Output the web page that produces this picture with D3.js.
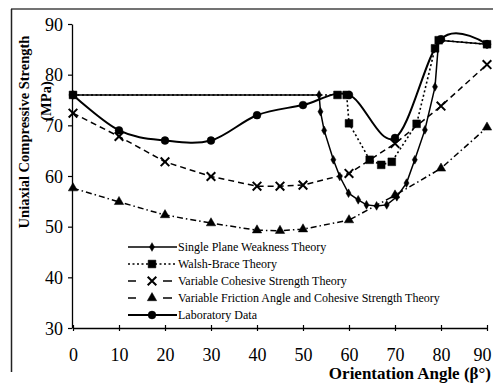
<!DOCTYPE html>
<html><head><meta charset="utf-8">
<script src="https://cdn.jsdelivr.net/npm/d3@7"></script>
<style>
html,body{margin:0;padding:0;background:#fff;}
svg{display:block;}
text{font-family:"Liberation Serif","DejaVu Serif",serif;fill:#000;}
</style></head>
<body>
<svg id="chart" width="493" height="385"></svg>
<script>
// ---- data ----
const xTicks = [0,10,20,30,40,50,60,70,80,90];
const yTicks = [30,40,50,60,70,80,90];
const seriesNames = ["Single Plane Weakness Theory","Walsh-Brace Theory","Variable Cohesive Strength Theory","Variable Friction Angle and Cohesive Strength Theory","Laboratory Data"];
const singlePlane = [[0,76],[53.5,76],[53.8,72.7],[54.6,69],[56.6,63.2],[58,59.9],[59.9,56.6],[62,55.3],[63.8,54.3],[66,54.1],[68.2,54.3],[70.4,55.9],[72.5,58.6],[74.3,63.2],[76.5,69.1],[78.7,77.6],[79.5,86.8],[90,86]];
const walshBrace = [[0,76],[57.5,76],[59.5,76],[60,70.4],[64.5,63.2],[67,62.2],[69.3,62.8],[74.7,70.3],[78.7,85.2],[79.5,86.8],[90,86]];
const varCohesive = [[0,72.4],[10,67.8],[20,62.8],[30,59.9],[40,58],[45,58],[50,58.2],[60,60.5],[70,66.4],[80,73.8],[90,82]];
const varFriction = [[0,57.6],[10,54.9],[20,52.3],[30,50.7],[40,49.3],[45,49.2],[50,49.5],[60,51.3],[70,56.2],[80,61.5],[90,69.6]];
const labData = [[0,76],[10,69],[20,67],[30,67],[40,72],[50,74],[60,76],[70,67.5],[80,87],[90,86]];

const svg = d3.select("#chart");
const x = d3.scaleLinear().domain([0,90]).range([73,487]);
const y = d3.scaleLinear().domain([30,90]).range([328,24]);

// frame
svg.append("line").attr("x1",11).attr("x2",493).attr("y1",9).attr("y2",9).attr("stroke","#444").attr("stroke-width",1.5);
svg.append("line").attr("x1",11.5).attr("x2",11.5).attr("y1",9).attr("y2",372).attr("stroke","#222").attr("stroke-width",1.5);

// axes
const gy = svg.append("g").attr("transform","translate(72,0)")
  .call(d3.axisLeft(y).tickValues(yTicks).tickSizeInner(4).tickSizeOuter(0).tickPadding(5).tickFormat(d3.format("d")));
const gx = svg.append("g").attr("transform","translate(0,328)")
  .call(d3.axisBottom(x).tickValues(xTicks).tickSizeInner(3).tickSizeOuter(0).tickPadding(17).tickFormat(d3.format("d")));
gx.selectAll(".tick line").attr("y1",-3).attr("y2",3);
[gx,gy].forEach(g=>{
  g.select(".domain").attr("stroke","#000").attr("stroke-width",1.3);
  g.selectAll(".tick line").attr("stroke","#000").attr("stroke-width",1.2);
  g.selectAll(".tick text").style("font-family","Liberation Serif").style("font-size","18px").attr("fill","#000");
});
gy.selectAll(".tick text").attr("dy","0.35em");
// keep the last x label inside the window
gx.selectAll(".tick text").filter(d=>d===90).attr("text-anchor","end").attr("dx","4");

// axis titles
svg.append("text").attr("transform","translate(29,132) rotate(-90)").attr("text-anchor","middle")
  .style("font-size","14.5px").style("font-weight","bold").text("Uniaxial Compressive Strength");
svg.append("text").attr("transform","translate(51,101) rotate(-90)").attr("text-anchor","middle")
  .style("font-size","14.5px").style("font-weight","bold").text("(MPa)");
svg.append("text").attr("x",491).attr("y",379).attr("text-anchor","end")
  .style("font-size","17px").style("font-weight","bold").text("Orientation Angle (β°)");

// series
const line = d3.line().x(d=>x(d[0])).y(d=>y(d[1]));
const smooth = d3.line().x(d=>x(d[0])).y(d=>y(d[1])).curve(d3.curveCardinal.tension(0));

const styles = [
  {data:singlePlane, gen:line, w:1.5, dash:null, sym:d3.symbolDiamond, size:22, fill:true},
  {data:walshBrace, gen:line, w:1.6, dash:"2,2.5", sym:d3.symbolSquare, size:60, fill:true},
  {data:varCohesive, gen:line, w:1.5, dash:"6,4", sym:d3.symbolX, size:50, fill:false},
  {data:varFriction, gen:line, w:1.5, dash:"6,3,1.5,3", sym:d3.symbolTriangle, size:38, fill:true},
  {data:labData, gen:smooth, w:2, dash:null, sym:d3.symbolCircle, size:48, fill:true}
];

styles.forEach(s=>{
  svg.append("path").datum(s.data).attr("d",s.gen).attr("fill","none").attr("stroke","#000")
    .attr("stroke-width",s.w).attr("stroke-dasharray",s.dash);
});
styles.forEach(s=>{
  svg.append("g").selectAll("path").data(s.data).join("path")
    .attr("transform",d=>`translate(${x(d[0])},${y(d[1])})`)
    .attr("d",d3.symbol().type(s.sym).size(s.size))
    .attr("fill",s.fill?"#000":"none").attr("stroke","#000").attr("stroke-width",s.fill?0.5:2);
});

// legend
const leg = svg.append("g");
seriesNames.forEach((name,i)=>{
  const s = styles[i];
  const yy = 247 + i*17;
  const g = leg.append("g");
  if (i===2 || i===3) {
    g.append("line").attr("x1",128).attr("x2",136).attr("y1",yy).attr("y2",yy).attr("stroke","#000").attr("stroke-width",1.5);
    g.append("line").attr("x1",163).attr("x2",172).attr("y1",yy).attr("y2",yy).attr("stroke","#000").attr("stroke-width",1.5);
  } else {
    g.append("line").attr("x1",128).attr("x2",177).attr("y1",yy).attr("y2",yy).attr("stroke","#000")
      .attr("stroke-width",s.w).attr("stroke-dasharray",s.dash);
  }
  g.append("path").attr("transform",`translate(152,${yy})`).attr("d",d3.symbol().type(s.sym).size(s.size))
    .attr("fill",s.fill?"#000":"none").attr("stroke","#000").attr("stroke-width",s.fill?0.5:2);
  g.append("text").attr("x",178).attr("y",yy).attr("dy","0.35em").style("font-size","12px").text(name);
});
</script>
</body></html>
